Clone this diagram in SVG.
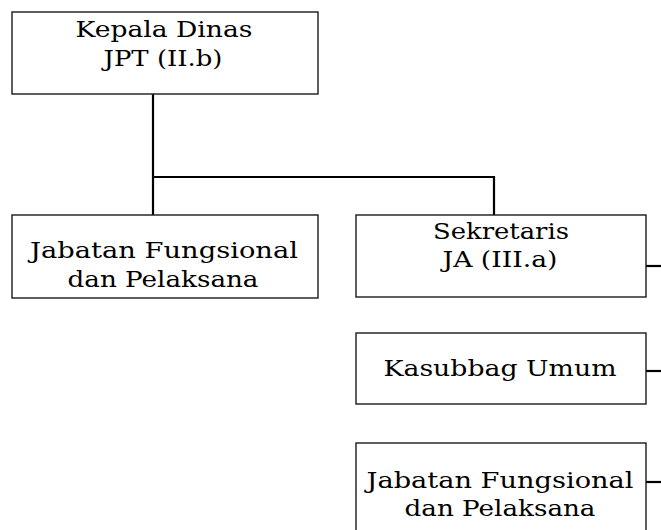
<svg xmlns="http://www.w3.org/2000/svg" width="661" height="530" viewBox="0 0 661 530">
<style>
.box{fill:#fff;stroke:#1a1a1a;stroke-width:1.4}
.lbl{font-family:"DejaVu Serif","Liberation Serif",serif;font-size:22px;fill:#000;text-anchor:middle}
.conn{stroke:#000;stroke-width:2.2;fill:none}
</style>
<rect width="661" height="530" fill="#fff"/>
<g id="connectors">
<path class="conn" d="M153,94 V215"/>
<path class="conn" d="M152,177 H494 V215"/>
<path class="conn" d="M646,266 H661"/>
<path class="conn" d="M646,371 H661"/>
<path class="conn" d="M646,482 H661"/>
</g>
<g id="kepala-dinas">
<rect class="box" x="12" y="12" width="306" height="82"/>
<text class="lbl" x="164" y="37" textLength="177" lengthAdjust="spacingAndGlyphs">Kepala Dinas</text>
<text class="lbl" x="163" y="66" textLength="119" lengthAdjust="spacingAndGlyphs">JPT (II.b)</text>
</g>
<g id="jf-left">
<rect class="box" x="12" y="215" width="306" height="83"/>
<text class="lbl" x="164" y="258" textLength="268" lengthAdjust="spacingAndGlyphs">Jabatan Fungsional</text>
<text class="lbl" x="163" y="287" textLength="191" lengthAdjust="spacingAndGlyphs">dan Pelaksana</text>
</g>
<g id="sekretaris">
<rect class="box" x="356" y="215" width="290" height="82"/>
<text class="lbl" x="501" y="239" textLength="136" lengthAdjust="spacingAndGlyphs">Sekretaris</text>
<text class="lbl" x="500" y="267" textLength="115" lengthAdjust="spacingAndGlyphs">JA (III.a)</text>
</g>
<g id="kasubbag-umum">
<rect class="box" x="356" y="333" width="290" height="71"/>
<text class="lbl" x="500" y="376" textLength="233" lengthAdjust="spacingAndGlyphs">Kasubbag Umum</text>
</g>
<g id="jf-right">
<rect class="box" x="356" y="443" width="290" height="100"/>
<text class="lbl" x="500" y="488" textLength="267" lengthAdjust="spacingAndGlyphs">Jabatan Fungsional</text>
<text class="lbl" x="500" y="516" textLength="191" lengthAdjust="spacingAndGlyphs">dan Pelaksana</text>
</g>
</svg>
